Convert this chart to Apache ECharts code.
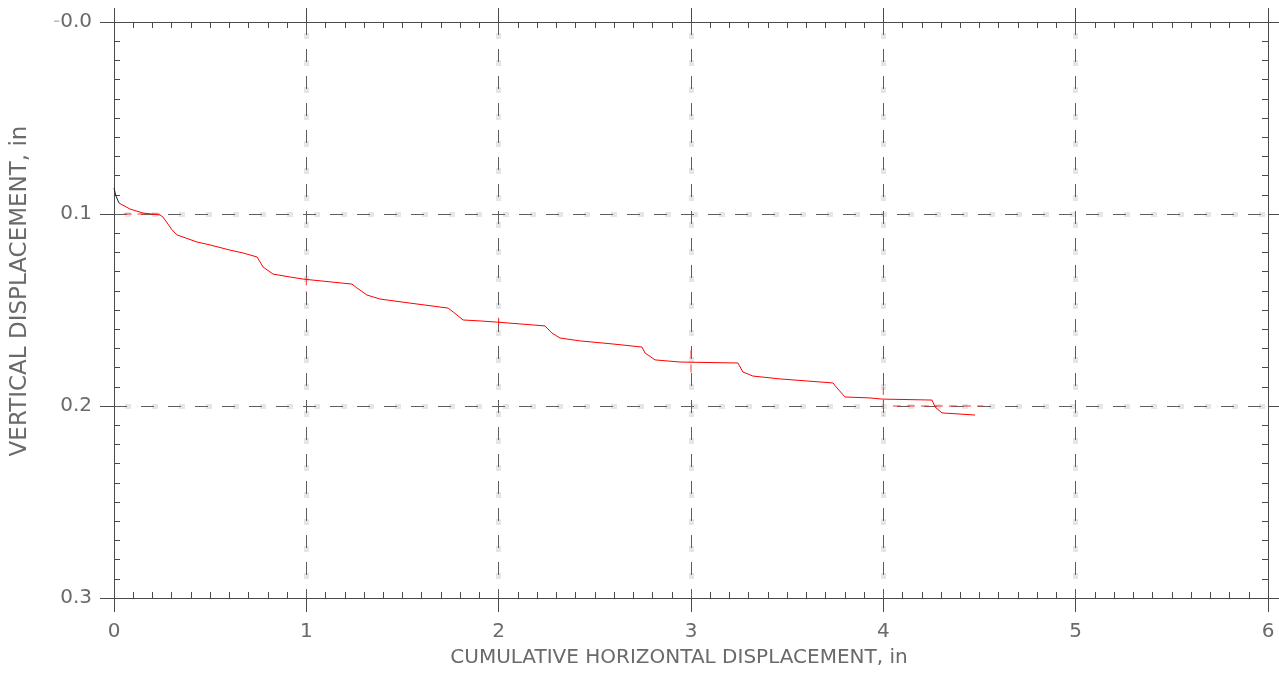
<!DOCTYPE html>
<html>
<head>
<meta charset="utf-8">
<script src="https://cdn.jsdelivr.net/npm/echarts@6/dist/echarts.min.js"></script>
<style>html,body{margin:0;padding:0;background:#fff}#c{width:1279px;height:675px}</style>
</head>
<body>
<div id="c"></div>
<script>
// Cumulative horizontal displacement (in) vs vertical displacement (in)
const headX = [0, 0.010, 0.026];
const headY = [0.0865, 0.0906, 0.0943];
const curveX = [0.026, 0.083, 0.151, 0.239, 0.255, 0.302, 0.328, 0.432, 0.499, 0.603, 0.671, 0.744, 0.775, 0.827, 0.915, 0.983,
  1.237, 1.263, 1.315, 1.383, 1.539, 1.737, 1.763, 1.815, 1.903, 1.991,
  2.241, 2.277, 2.319, 2.423, 2.594, 2.745, 2.761, 2.813, 2.943,
  3.244, 3.270, 3.322, 3.463, 3.738, 3.759, 3.801, 3.931, 3.993,
  4.253, 4.269, 4.305, 4.477];
const curveY = [0.0943, 0.0974, 0.0995, 0.1005, 0.1016, 0.1083, 0.1109, 0.1146, 0.1161, 0.1188, 0.1203, 0.1224, 0.1276, 0.1313, 0.1328, 0.1339,
  0.1365, 0.1385, 0.1422, 0.1443, 0.1464, 0.1490, 0.1510, 0.1552, 0.1557, 0.1563,
  0.1583, 0.1620, 0.1646, 0.1661, 0.1677, 0.1693, 0.1724, 0.1760, 0.1771,
  0.1776, 0.1823, 0.1844, 0.1859, 0.1880, 0.1906, 0.1953, 0.1958, 0.1964,
  0.1969, 0.2005, 0.2036, 0.2047];
// red highlighted grid segments near the curve (x pairs / y pairs, null separated)
const accentX = [0.05, 0.26, null, 4.05, 4.52, null, 1, 1, null, 2, 2, null, 3, 3, null, 4, 4];
const accentY = [0.1, 0.1, null, 0.2, 0.2, null, 0.133, 0.141, null, 0.154, 0.158, null, 0.171, 0.184, null, 0.19, 0.205];
const xTicks = [0, 1, 2, 3, 4, 5, 6];
const yTicks = [0, 0.1, 0.2, 0.3];

const zip = (a, b) => a.map((v, i) => (v === null ? [null, null] : [v, b[i]]));

const AX = '#4a4a4a';
const LBL = '#6a6a6a';
const FONT = 'DejaVu Sans';

function xAx(pos, opts) {
  return Object.assign({
    type: 'value', position: pos, min: xTicks[0], max: xTicks[xTicks.length - 1], interval: 1,
    axisLine: { show: true, onZero: false, lineStyle: { color: AX, width: 1 } },
    axisTick: { show: false }, axisLabel: { show: false }, splitLine: { show: false },
    minorTick: { show: false }, minorSplitLine: { show: false }
  }, opts);
}
function yAx(pos, opts) {
  return Object.assign({
    type: 'value', position: pos, inverse: true, min: yTicks[0], max: yTicks[yTicks.length - 1], interval: 0.1,
    axisLine: { show: true, onZero: false, lineStyle: { color: AX, width: 1 } },
    axisTick: { show: false }, axisLabel: { show: false }, splitLine: { show: false },
    minorTick: { show: false }, minorSplitLine: { show: false }
  }, opts);
}
const outTick = { show: true, inside: false, length: 14, lineStyle: { color: AX, width: 1 } };
const inTickHidden = { show: false, inside: true, length: 6 };
const minorIn = { show: true, splitNumber: 10, length: 6, lineStyle: { color: AX, width: 1 } };
const gridDark = { show: true, showMinLine: false, showMaxLine: false, lineStyle: { color: '#5e5e5e', width: 1, type: [13, 14] } };
const gridLight = { show: true, showMinLine: false, showMaxLine: false, lineStyle: { color: '#e6e6e6', width: 5, type: [6, 21], dashOffset: 16 } };

const option = {
  animation: false,
  backgroundColor: '#fff',
  grid: { left: 114, right: 11, top: 22, bottom: 77, containLabel: false },
  xAxis: [
    xAx('bottom', { axisTick: outTick, axisLabel: { show: true, margin: 24, color: LBL, fontFamily: FONT, fontSize: 20 },
      name: 'CUMULATIVE HORIZONTAL DISPLACEMENT, in', nameLocation: 'middle', nameGap: 50,
      nameTextStyle: { color: LBL, fontFamily: FONT, fontSize: 20, padding: [0, 24, 0, 0] } }),
    xAx('bottom', { axisTick: inTickHidden, minorTick: minorIn, splitLine: gridLight }),
    xAx('top', { axisTick: outTick }),
    xAx('top', { axisTick: inTickHidden, minorTick: minorIn, splitLine: gridDark })
  ],
  yAxis: [
    yAx('left', { axisTick: outTick, axisLabel: { show: true, margin: 22, color: LBL, fontFamily: FONT, fontSize: 20,
        formatter: v => (Math.abs(v) < 1e-9 ? '{m|-}0.0' : v.toFixed(1)),
        rich: { m: { color: '#bdbdbd', fontFamily: FONT, fontSize: 20 } } },
      name: 'VERTICAL DISPLACEMENT, in', nameLocation: 'middle', nameGap: 82, nameRotate: 90,
      nameTextStyle: { color: LBL, fontFamily: FONT, fontSize: 23, padding: [0, 0, 0, 38] } }),
    yAx('left', { axisTick: inTickHidden, minorTick: minorIn, splitLine: gridLight }),
    yAx('right', { axisTick: outTick }),
    yAx('right', { axisTick: inTickHidden, minorTick: minorIn, splitLine: gridDark })
  ],
  series: [
    { type: 'line', xAxisIndex: 0, yAxisIndex: 0, data: zip(accentX, accentY), showSymbol: false, connectNulls: false,
      lineStyle: { color: '#ff3333', width: 1, type: [8, 6] }, silent: true, z: 3 },
    { type: 'line', xAxisIndex: 0, yAxisIndex: 0, data: zip(headX, headY), showSymbol: false,
      lineStyle: { color: '#222', width: 1 }, z: 4 },
    { type: 'line', xAxisIndex: 0, yAxisIndex: 0, data: zip(curveX, curveY), showSymbol: false,
      lineStyle: { color: '#ff0000', width: 1 }, z: 5 }
  ]
};
const chart = echarts.init(document.getElementById('c'), null, { renderer: 'canvas' });
chart.setOption(option);
</script>
</body>
</html>
